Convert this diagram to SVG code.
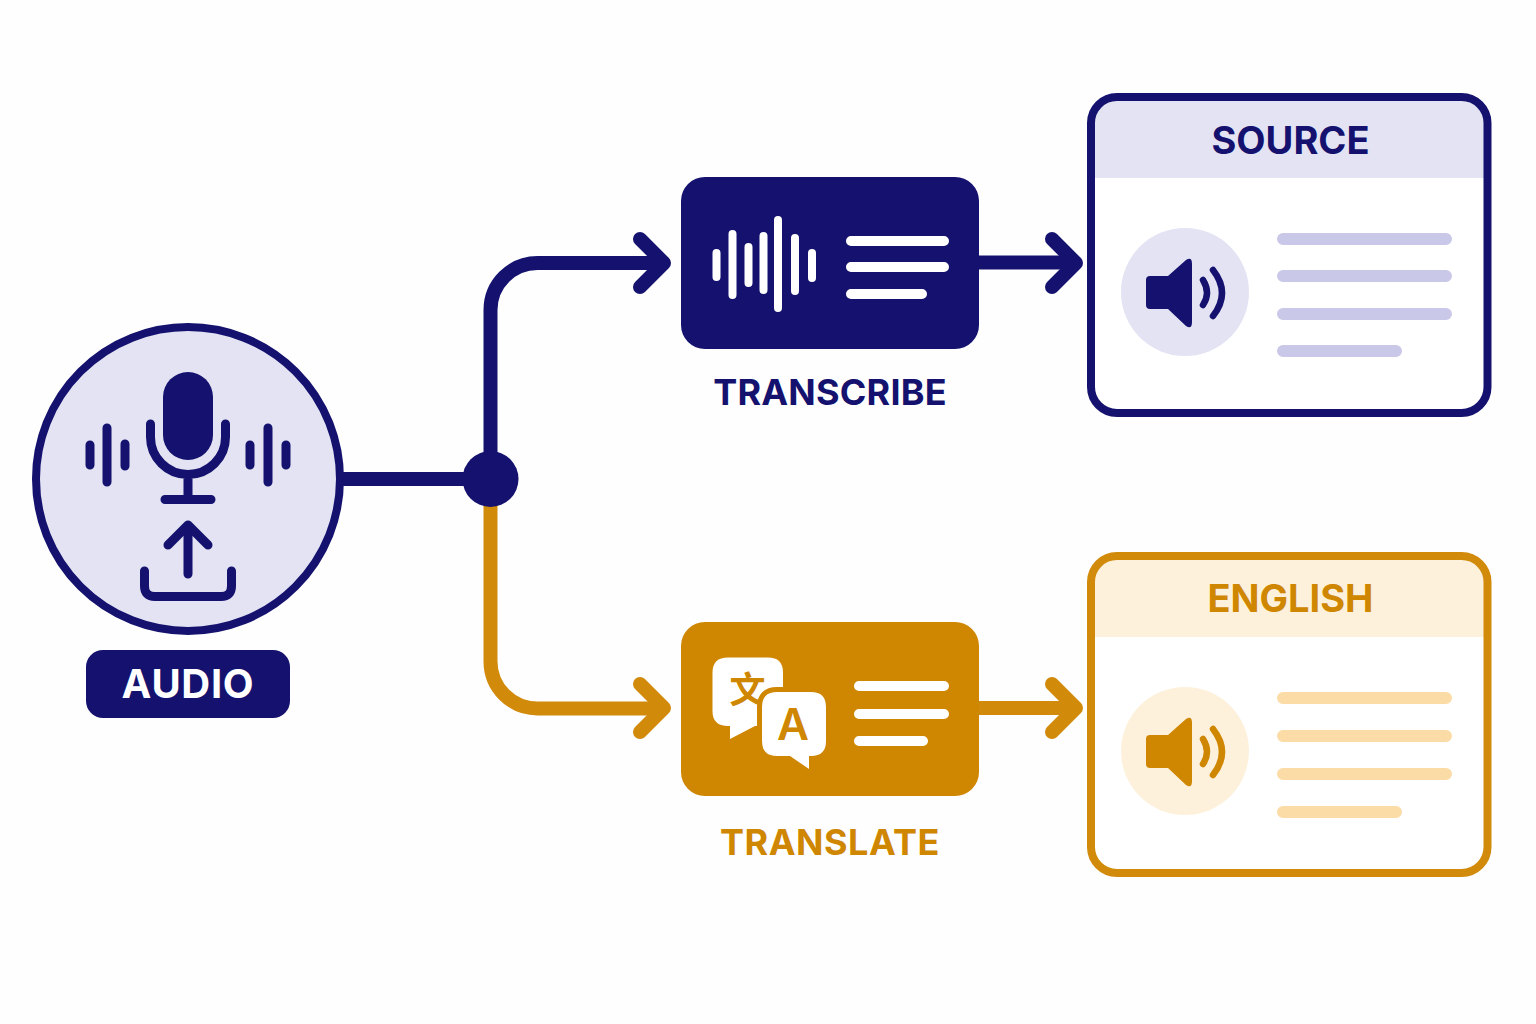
<svg xmlns="http://www.w3.org/2000/svg" width="1536" height="1024" viewBox="0 0 1536 1024">
<style>
.lbl{font-family:"Inter","Liberation Sans",sans-serif;font-weight:700;font-size:38px;text-anchor:middle}
.n{fill:#14126e}.o{fill:#cf8600}.w{fill:#fff}
.ns{stroke:#14126e;fill:none;stroke-linecap:round;stroke-linejoin:round}
.os{stroke:#d18a0a;fill:none;stroke-linecap:round;stroke-linejoin:round}
.ws{stroke:#fff;fill:none;stroke-linecap:round}
.wire{stroke-width:14}
</style>
<defs>
<path id="cone" d="M1150 276H1168L1186 260Q1192 256 1192 264V322Q1192 330 1186 326L1168 309H1150Q1146 309 1146 305V280Q1146 276 1150 276Z"/>
<path id="waves" d="M1203 280Q1211 293 1203 305M1213 270Q1231 293 1213 316" stroke-width="6.500" stroke-linecap="round" fill="none"/>
</defs>
<rect width="1536" height="1024" fill="#fefefe"/>
<g id="connectors">
<path class="ns wire" d="M344 479H490.500"/>
<path class="ns wire" d="M490.500 479V310A47 47 0 0 1 537.500 263H660"/>
<path class="ns wire" d="M640 239L664 263L640 287"/>
<path class="os wire" d="M490.500 500V661.500A47 47 0 0 0 537.500 708.500H660"/>
<path class="os wire" d="M640 684L664 708L640 732"/>
<path class="ns wire" d="M975 262.500H1072"/>
<path class="ns wire" d="M1052 239L1076 263L1052 287"/>
<path class="os wire" d="M975 708H1072"/>
<path class="os wire" d="M1052 684L1076 708L1052 732"/>
<circle class="n" cx="490.500" cy="479" r="28"/>
</g>
<g id="audio">
<circle cx="188" cy="479" r="152" fill="#e3e3f3" stroke="#14126e" stroke-width="8"/>
<rect class="n" x="163" y="372" width="50" height="88" rx="25"/>
<path class="ns" stroke-width="9" d="M150.500 424V437A37.500 37.500 0 0 0 225.500 437V424M188 475V499M165 499.500H211"/>
<path class="ns" stroke-width="9" d="M90 445V465M107 428V482M125 444V466M250 445V465M268 428V482M286 445V465"/>
<path class="ns" stroke-width="9" d="M168 545L188 525L208 545M188 527V574M144.500 571V586Q144.500 596.500 155 596.500H221Q231.500 596.500 231.500 586V571"/>
<rect class="n" x="86" y="650" width="204" height="68" rx="17"/>
<text class="lbl w" x="188" y="698" style="font-size:40px;letter-spacing:.7px">AUDIO</text>
</g>
<g id="transcribe">
<rect class="n" x="681" y="177" width="298" height="172" rx="24"/>
<path class="ws" stroke-width="8" d="M716.500 253V277M732.500 234V295M748.500 247V283M763.500 236V290M778 220V308M795 238V291M812 253V278"/>
<path class="ws" stroke-width="10" d="M851 241H944M851 267H944M851 294H922"/>
<text class="lbl n" x="830" y="405" style="font-size:36px;letter-spacing:.2px">TRANSCRIBE</text>
</g>
<g id="translate">
<rect class="o" x="681" y="622" width="298" height="174" rx="24"/>
<path class="w" d="M728 657.500H768Q783 657.500 783 672.500V711Q783 726 768 726H755L730 739V726H728Q712.500 726 712.500 711V672.500Q712.500 657.500 728 657.500Z"/>
<text x="747.500" y="703" font-family="'Noto Sans CJK SC',sans-serif" font-weight="700" font-size="36" text-anchor="middle" class="o">文</text>
<path class="w" stroke="#cf8600" stroke-width="10" paint-order="stroke" d="M777 692H811Q826 692 826 707V741Q826 756 811 756H809V769L790 756H777Q762 756 762 741V707Q762 692 777 692Z"/>
<text x="793" y="740" font-family="Inter,'Liberation Sans',sans-serif" font-weight="600" font-size="44" text-anchor="middle" class="o">A</text>
<path class="ws" stroke-width="10" d="M859 686H944M859 714H944M859 741H923"/>
<text class="lbl o" x="830" y="855" style="font-size:36px;letter-spacing:.5px">TRANSLATE</text>
</g>
<g id="source">
<rect x="1091" y="97" width="396.500" height="316" rx="26" fill="#fff"/>
<path d="M1117 97H1461.500Q1487.500 97 1487.500 123V178H1091V123Q1091 97 1117 97Z" fill="#e3e3f3"/>
<rect x="1091" y="97" width="396.500" height="316" rx="26" fill="none" stroke="#14126e" stroke-width="8"/>
<text class="lbl n" x="1290.500" y="153.500">SOURCE</text>
<circle cx="1185" cy="292" r="64" fill="#e3e3f3"/>
<use href="#cone" class="n"/>
<use href="#waves" stroke="#14126e"/>
<path stroke="#c9c8e8" stroke-width="12" stroke-linecap="round" d="M1283 239H1446M1283 276H1446M1283 314H1446M1283 351H1396"/>
</g>
<g id="english">
<rect x="1091" y="556" width="396.500" height="317" rx="26" fill="#fff"/>
<path d="M1117 556H1461.500Q1487.500 556 1487.500 582V637H1091V582Q1091 556 1117 556Z" fill="#fdf1dc"/>
<rect x="1091" y="556" width="396.500" height="317" rx="26" fill="none" stroke="#d18a0a" stroke-width="8"/>
<text class="lbl o" x="1290.500" y="612">ENGLISH</text>
<circle cx="1185" cy="751" r="64" fill="#fdf1dc"/>
<use href="#cone" class="o" y="459"/>
<use href="#waves" stroke="#cf8600" y="459"/>
<path stroke="#fbdca6" stroke-width="12" stroke-linecap="round" d="M1283 698H1446M1283 736H1446M1283 774H1446M1283 812H1396"/>
</g>
</svg>
